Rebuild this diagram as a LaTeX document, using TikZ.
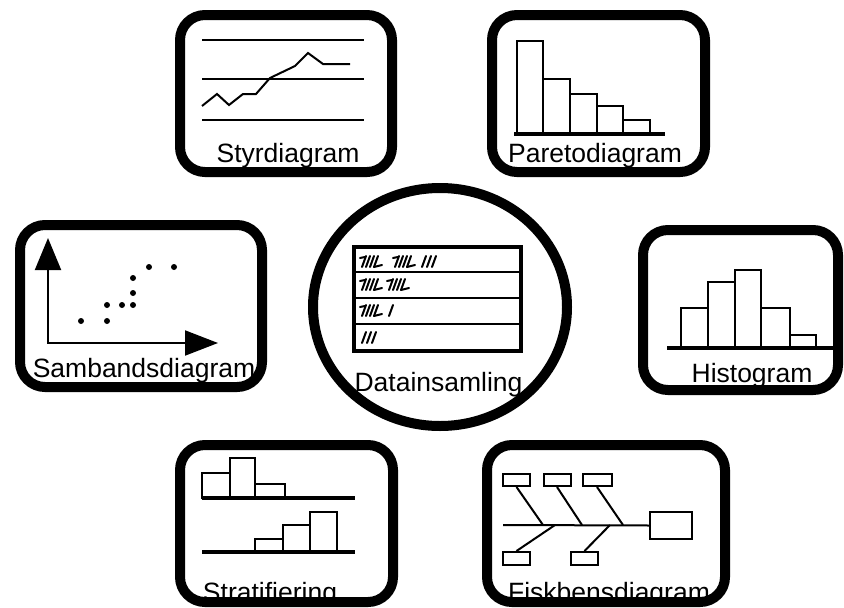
\documentclass[tikz,border=0pt]{standalone}
\usepackage{fontspec}
\setmainfont{Liberation Sans}
\usetikzlibrary{positioning,shapes.geometric,arrows.meta}

% one group of five tally strokes
\newcommand{\tallyfive}[2]{%
  \foreach \i in {0,4,8,12} \draw (#1+\i,#2+5) -- (#1+\i+4,#2-6);
  \draw (#1-2,#2-4) -- (#1+3,#2-5);
  \draw (#1+12,#2+5) -- (#1+20,#2+3);
}
\newcommand{\tallyone}[2]{\draw (#1,#2+5) -- (#1+4,#2-6);}

\begin{document}
\begin{tikzpicture}[x=1pt, y=-1pt,
    frame/.style={draw, line width=10pt, rounded corners=25pt, rectangle},
    lbl/.style={font=\fontsize{26.5}{30}\selectfont, anchor=base, inner sep=0pt},
    thin line/.style={line width=2pt},
    bar/.style={draw, line width=2.5pt},
    base line/.style={line width=4pt},
    dot/.style={circle, fill, inner sep=0pt, minimum size=6pt}
  ]
  \useasboundingbox (0,0) rectangle (844,608);

  % labels
  \node[lbl] (l_styr)   at (288,162) {Styrdiagram};
  \node[lbl] (l_pareto) at (595,162) {Paretodiagram};
  \node[lbl] (l_samb)   at (144,377) {Sambandsdiagram};
  \node[lbl] (l_data)   at (438.5,391) {Datainsamling};
  \node[lbl] (l_hist)   at (752,382) {Histogram};
  \node[lbl] (l_strat)  at (270,601) {Stratifiering};
  \node[lbl] (l_fisk)   at (609,601) {Fiskbensdiagram};

  % frames
  \node[frame, minimum width=212pt, minimum height=157pt] (styr)   at (286,93.5) {};
  \node[frame, minimum width=213pt, minimum height=157pt] (pareto) at (598.5,93.5) {};
  \node[frame, minimum width=242pt, minimum height=162pt] (samb)   at (141,306) {};
  \node[frame, minimum width=195pt, minimum height=160pt] (hist)   at (740.5,310) {};
  \node[frame, minimum width=213pt, minimum height=157pt] (strat)  at (286.5,523.5) {};
  \node[frame, minimum width=238pt, minimum height=157pt] (fisk)   at (606,523.5) {};
  \node[draw, ellipse, line width=10pt, minimum width=254pt, minimum height=238pt] (data) at (440,307) {};

  % Styrdiagram
  \foreach \y in {40,79,120} \draw[thin line] (202,\y) -- (364,\y);
  \draw[thin line] plot coordinates {(202,106) (217,94) (229,105) (243,94) (256,94)
    (270,78) (295,66) (308,53) (323,64) (350,64)};

  % Paretodiagram
  \foreach \xa/\xb/\t in {517/543/41, 543/570/79, 570/597/94, 597/623/106, 623/650/120}
    \draw[bar] (\xa,134) rectangle (\xb,\t);
  \draw[base line] (514,134) -- (665,134);

  % Sambandsdiagram
  \coordinate (orig) at (48,343);
  \coordinate (ytip) at (48,238);
  \coordinate (xtip) at (218,343);
  \draw[thin line, -{Triangle[length=32pt,width=26pt]}] (orig) -- (ytip);
  \draw[thin line, -{Triangle[length=33pt,width=25pt]}] ([xshift=-1pt]orig) -- (xtip);
  \foreach \x/\y [count=\n] in {81/321, 107/321, 107/305, 122/305, 133/305,
      133/293, 133/278, 149/267, 174/267}
    \node[dot] (pt\n) at (\x,\y) {};

  % Datainsamling
  \draw[line width=4pt] (354,247) rectangle (521,351);
  \foreach \y in {272,298,324} \draw[thin line] (354,\y) -- (521,\y);
  \begin{scope}[line width=2pt, line cap=round]
    \tallyfive{362}{262} \tallyfive{395}{262}
    \tallyone{422}{262} \tallyone{427}{262} \tallyone{432}{262}
    \tallyfive{362}{285} \tallyfive{389}{285}
    \tallyfive{362}{311} \tallyone{389}{311}
    \tallyone{362}{338} \tallyone{367}{338} \tallyone{372}{338}
  \end{scope}

  % Histogram
  \foreach \xa/\xb/\t in {681/708/308, 708/735/282, 735/761/270, 761/790/308, 790/816/335}
    \draw[bar] (\xa,348) rectangle (\xb,\t);
  \draw[base line] (667,348) -- (833,348);

  % Stratifiering
  \foreach \xa/\xb/\t in {202/230/473, 230/255/458, 255/285/484}
    \draw[bar] (\xa,498) rectangle (\xb,\t);
  \draw[base line] (202,498) -- (355,498);
  \foreach \xa/\xb/\t in {255/283/539, 283/310/525, 310/337/512}
    \draw[bar] (\xa,552) rectangle (\xb,\t);
  \draw[base line] (202,552) -- (355,552);

  % Fiskbensdiagram
  \begin{scope}[every node/.style={draw, line width=2pt, rectangle, inner sep=0pt}]
    \node[minimum width=27pt, minimum height=12pt] (fb1) at (516.5,480) {};
    \node[minimum width=27pt, minimum height=12pt] (fb2) at (557,480) {};
    \node[minimum width=29pt, minimum height=12pt] (fb3) at (597,480) {};
    \node[minimum width=27pt, minimum height=13pt] (fb4) at (516.5,558.5) {};
    \node[minimum width=27pt, minimum height=13pt] (fb5) at (584.5,558.5) {};
    \node[minimum width=42pt, minimum height=27pt] (head) at (671,525.5) {};
  \end{scope}
  \coordinate (tail) at (503,525);
  \coordinate (s1) at (543,525);
  \coordinate (s2) at (582,525);
  \coordinate (s3) at (623,525);
  \coordinate (s4) at (555,525);
  \coordinate (s5) at (610,525);
  \draw[thin line] (tail) -- (head.west);
  \draw[thin line] (fb1.south) -- (s1);
  \draw[thin line] (fb2.south) -- (s2);
  \draw[thin line] (fb3.south) -- (s3);
  \draw[thin line] (fb4.north) -- (s4);
  \draw[thin line] (fb5.north) -- (s5);
\end{tikzpicture}
\end{document}
